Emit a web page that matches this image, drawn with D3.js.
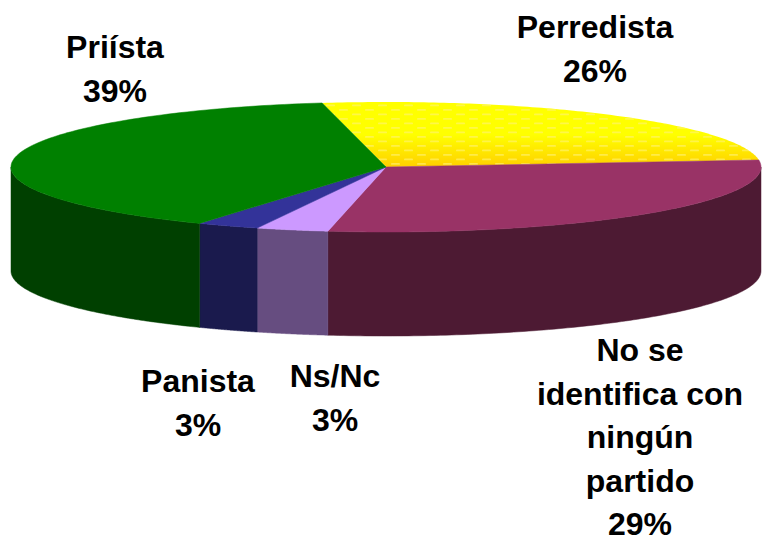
<!DOCTYPE html>
<html>
<head>
<meta charset="utf-8">
<script src="https://cdn.jsdelivr.net/npm/d3@7"></script>
<style>
html,body{margin:0;padding:0;background:#fff}
svg{display:block}
text{font-family:"Liberation Sans",Arial,sans-serif;font-weight:bold;font-size:32px;fill:#000;text-anchor:middle}
</style>
</head>
<body>
<svg id="c" width="762" height="542"></svg>
<script>
const categories = ["Perredista","No se identifica con ningún partido","Ns/Nc","Panista","Priísta"];
const values = [26,29.2,3.1,2.7,39];
const topColors = ["#ffff00","#993366","#cc99ff","#333399","#008000"];
const sideColors = ["#808000","#4d1a33","#664d80","#1a1a4d","#004000"];
const labelLines = [["Perredista","26%"],["No se","identifica con","ningún","partido","29%"],["Ns/Nc","3%"],["Panista","3%"],["Priísta","39%"]];
const labelX = [595,640,335,198,115];
const labelY = [38,361,387,392,58];

const W=762,H=542,cx=386,cy=167,rx=375,ry=65,depth=104,lh=43.6;
const sx=d3.scaleLinear().domain([-1,1]).range([cx-rx,cx+rx]);
const sy=d3.scaleLinear().domain([-1,1]).range([cy+ry,cy-ry]);
const svg=d3.select("#c");
const defs=svg.append("defs");
const grad=defs.append("linearGradient").attr("id","yellowGrad").attr("gradientUnits","userSpaceOnUse")
  .attr("x1",0).attr("x2",0).attr("y1",cy-ry).attr("y2",cy);
grad.append("stop").attr("offset","0").attr("stop-color","#ffff00");
grad.append("stop").attr("offset","0.5").attr("stop-color","#ffff00");
grad.append("stop").attr("offset","1").attr("stop-color","#ffd000");
const pat=defs.append("pattern").attr("id","dash").attr("patternUnits","userSpaceOnUse")
  .attr("width",26).attr("height",9);
pat.append("rect").attr("x",1).attr("y",1).attr("width",9).attr("height",1.8).attr("rx",.9).attr("fill","#fff27a").attr("opacity",.6);
pat.append("rect").attr("x",14).attr("y",5.5).attr("width",9).attr("height",1.8).attr("rx",.9).attr("fill","#fff27a").attr("opacity",.6);

const pie=d3.pie().sort(null).startAngle(-9.8*Math.PI/180).endAngle((360-9.8)*Math.PI/180).value(d=>d);
const arcs=pie(values);
const px=t=>sx(Math.sin(t)), py=t=>sy(Math.cos(t));
const samples=(a,b)=>d3.range(0,121).map(i=>a+(b-a)*i/120);
const line=d3.line();

arcs.forEach((d,i)=>{
  const a=Math.max(d.startAngle,Math.PI/2), b=Math.min(d.endAngle,3*Math.PI/2);
  if(b<=a) return;
  const ts=samples(a,b);
  const pts=ts.map(t=>[px(t),py(t)]).concat(ts.slice().reverse().map(t=>[px(t),py(t)+depth]));
  svg.append("path").attr("d",line(pts)+"Z").attr("fill",sideColors[i]).attr("stroke",sideColors[i]).attr("stroke-width",.5);
});
arcs.forEach((d,i)=>{
  const pts=[[sx(0),sy(0)]].concat(samples(d.startAngle,d.endAngle).map(t=>[px(t),py(t)]));
  const col=i===0?"url(#yellowGrad)":topColors[i];
  svg.append("path").attr("d",line(pts)+"Z").attr("fill",col).attr("stroke",i===0?"none":col).attr("stroke-width",.5);
  if(i===0) svg.append("path").attr("d",line(pts)+"Z").attr("fill","url(#dash)");
});
labelLines.forEach((ls,i)=>{
  const t=svg.append("text");
  ls.forEach((s,j)=>t.append("tspan").attr("x",labelX[i]).attr("y",labelY[i]+j*lh).text(s));
});
</script>
</body>
</html>
